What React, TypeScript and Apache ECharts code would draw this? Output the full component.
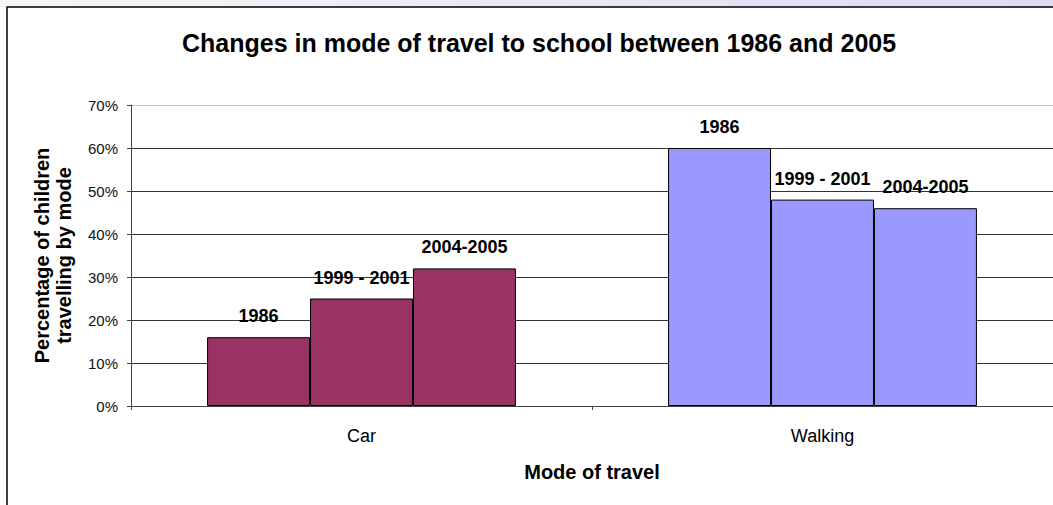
import React, { useEffect, useRef } from "react";
import * as echarts from "echarts";

const categories = ["Car", "Walking"];
const periods = ["1986", "1999 - 2001", "2004-2005"];
const values1986 = [16, 60];
const values1999 = [25, 48];
const values2004 = [32, 46];
const categoryColors = ["#993366", "#9999FF"];
const yMin = 0;
const yMax = 70;
const yInterval = 10;

const FONT = "'Liberation Sans', Arial, Helvetica, sans-serif";

export default function App() {
  const ref = useRef<HTMLDivElement>(null);

  useEffect(() => {
    if (!ref.current) return;
    const chart = echarts.init(ref.current, null, { renderer: "svg" });
    const seriesValues = [values1986, values1999, values2004];
    const gridColors = ["#333", "#333", "#333", "#333", "#333", "#333", "#333", "#c8c8c8"];

    chart.setOption({
      animation: false,
      backgroundColor: "#ffffff",
      textStyle: { fontFamily: FONT },
      title: {
        text: "Changes in mode of travel to school between 1986 and 2005",
        left: 182,
        top: 30,
        padding: 0,
        textStyle: { fontFamily: FONT, fontSize: 25, fontWeight: "bold", color: "#000" },
      },
      graphic: [
        {
          type: "rect",
          shape: { x: 0, y: 0, width: 1053, height: 7 },
          style: {
            fill: new echarts.graphic.LinearGradient(0, 0, 1, 0, [
              { offset: 0, color: "#f6f6f6" },
              { offset: 1, color: "#dcdcf5" },
            ]),
          },
          silent: true,
        },
        {
          type: "rect",
          shape: { x: 7, y: 7, width: 1200, height: 700 },
          style: { fill: "none", stroke: "#000", lineWidth: 1.5 },
          silent: true,
        },
      ],
      grid: { left: 131, top: 105, width: 926, height: 301, containLabel: false },
      xAxis: {
        type: "category",
        data: categories,
        name: "Mode of travel",
        nameLocation: "middle",
        nameGap: 56,
        nameTextStyle: { fontFamily: FONT, fontSize: 20, fontWeight: "bold", color: "#000" },
        axisLine: { lineStyle: { color: "#404040", width: 1 } },
        axisTick: { show: true, length: 4, alignWithLabel: false, lineStyle: { color: "#404040" } },
        axisLabel: { fontFamily: FONT, fontSize: 18, color: "#000", margin: 21 },
      },
      yAxis: {
        type: "value",
        min: yMin,
        max: yMax,
        interval: yInterval,
        name: "Percentage of children\ntravelling by mode",
        nameLocation: "middle",
        nameGap: 56,
        nameTextStyle: {
          fontFamily: FONT,
          fontSize: 20,
          fontWeight: "bold",
          color: "#000",
          lineHeight: 22,
        },
        axisLine: { show: true, lineStyle: { color: "#404040", width: 1 } },
        axisTick: { show: true, length: 4, lineStyle: { color: "#404040" } },
        axisLabel: { fontFamily: FONT, fontSize: 15, color: "#111", margin: 13, formatter: "{value}%" },
        splitLine: { show: true, lineStyle: { color: gridColors, width: 1 } },
      },
      series: periods.map((p, si) => ({
        name: p,
        type: "bar",
        barGap: "0%",
        barCategoryGap: "33%",
        data: seriesValues[si].map((v, ci) => ({
          value: v,
          itemStyle: { color: categoryColors[ci], borderColor: "#000", borderWidth: 1 },
        })),
        label: {
          show: true,
          position: "top",
          distance: 12,
          formatter: p,
          fontFamily: FONT,
          fontSize: 18,
          fontWeight: "bold",
          color: "#000",
          lineHeight: 18,
        },
      })),
    });

    return () => chart.dispose();
  }, []);

  return (
    <div
      ref={ref}
      style={{ position: "fixed", left: 0, top: 0, width: 1053, height: 505 }}
    />
  );
}
